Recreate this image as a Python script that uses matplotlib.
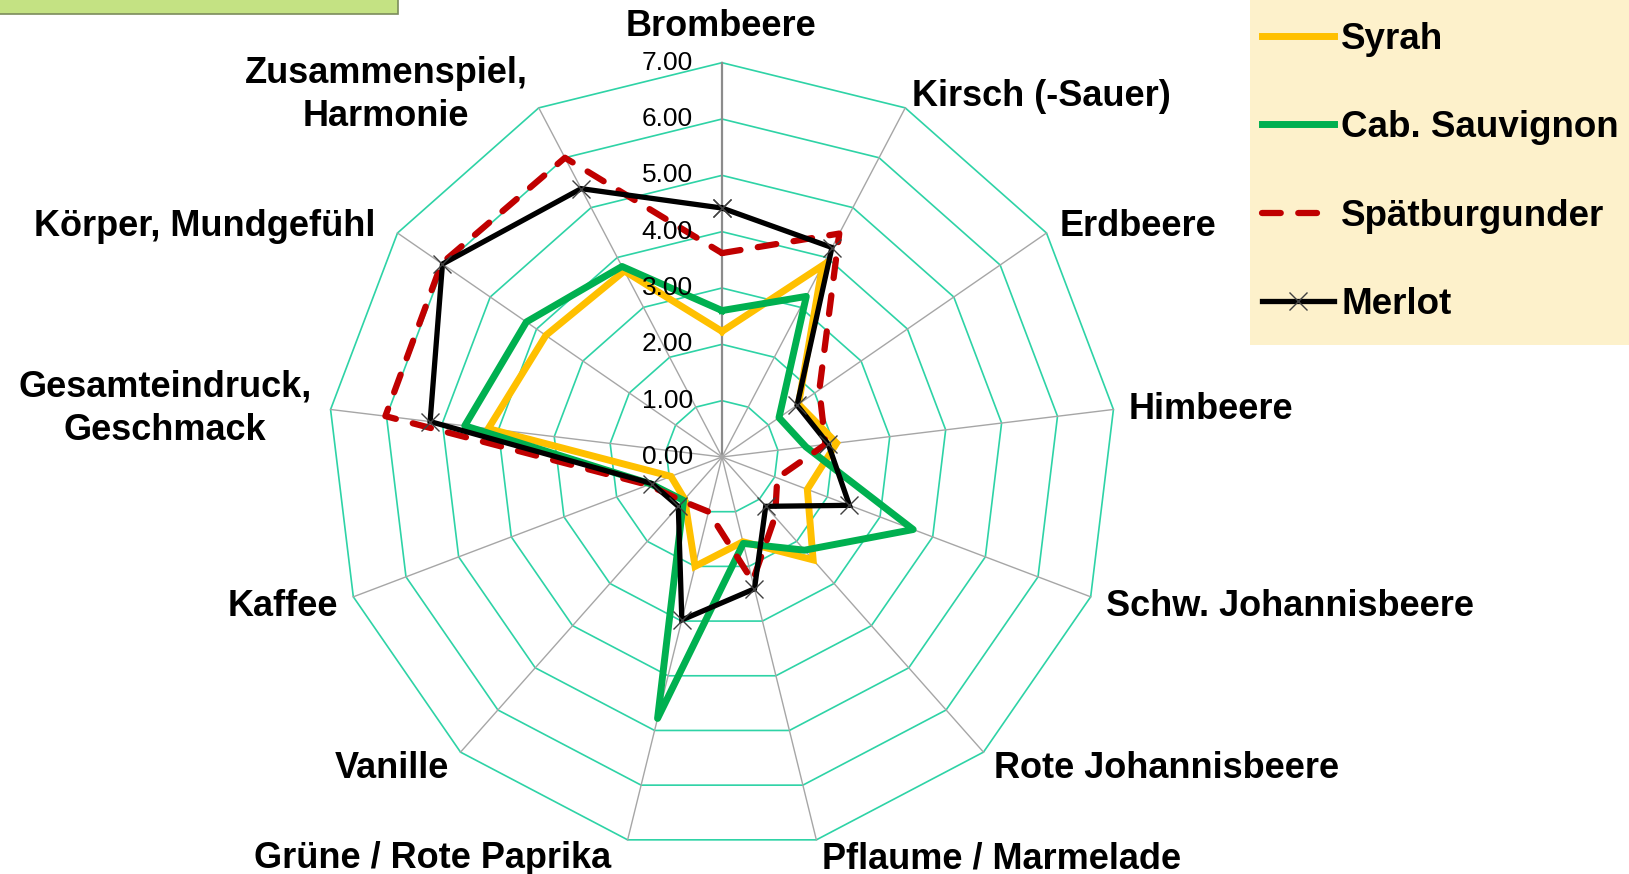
import numpy as np
import matplotlib
matplotlib.use("Agg")
import matplotlib.pyplot as plt
from matplotlib.patches import Rectangle
import matplotlib.transforms as mtransforms

# ---------------- data ----------------
categories = ["Brombeere", "Kirsch (-Sauer)", "Erdbeere", "Himbeere",
              "Schw. Johannisbeere", "Rote Johannisbeere", "Pflaume / Marmelade",
              "Grüne / Rote Paprika", "Vanille", "Kaffee",
              "Gesamteindruck,\nGeschmack", "Körper, Mundgefühl",
              "Zusammenspiel,\nHarmonie"]
syrah = [2.23, 3.84, 1.65, 2.05, 1.62, 2.44, 1.55, 2.00, 1.00, 0.97, 4.18, 3.80, 3.73]
cab_sauvignon = [2.60, 3.22, 1.23, 1.50, 3.63, 2.21, 1.58, 4.78, 1.03, 1.35, 4.60, 4.22, 3.82]
spaetburgunder = [3.62, 4.48, 2.10, 1.85, 1.05, 1.42, 2.27, 1.00, 1.05, 1.40, 6.02, 6.05, 6.00]
merlot = [4.42, 4.20, 1.62, 1.90, 2.42, 1.17, 2.41, 2.98, 1.17, 1.33, 5.22, 6.03, 5.38]
series_names = ["Syrah", "Cab. Sauvignon", "Spätburgunder", "Merlot"]
ring_values = [1, 2, 3, 4, 5, 6, 7]
tick_values = [0, 1, 2, 3, 4, 5, 6, 7]
tick_labels = ["0.00", "1.00", "2.00", "3.00", "4.00", "5.00", "6.00", "7.00"]

# ---------------- figure ----------------
W, H = 1629, 874
fig = plt.figure(figsize=(W / 100, H / 100), dpi=100)
fig.patch.set_facecolor("white")

def fx(px):
    return px / W

def fy(py):
    return 1 - py / H

cx, cy, R = 722, 457, 394.3
ax = fig.add_axes([fx(cx - R), fy(cy + R), 2 * R / W, 2 * R / H], projection="polar")
ax.set_theta_zero_location("N")
ax.set_theta_direction(-1)
ax.set_ylim(0, 7)
ax.set_xticks([])
ax.set_yticks([])
ax.grid(False)
ax.spines["polar"].set_visible(False)
ax.patch.set_alpha(0)

n = len(categories)
theta = np.arange(n) * 2 * np.pi / n
theta_closed = np.append(theta, theta[0])

# grid rings (polygons)
ring_color = "#2ED3A6"
for rv in ring_values:
    ax.plot(theta_closed, [rv] * (n + 1), color=ring_color, lw=1.2, clip_on=False, zorder=1)
# spokes
for i, t in enumerate(theta):
    ax.plot([t, t], [0, 7], color="#8C8C8C" if i == 0 else "#A6A6A6",
            lw=1.6 if i == 0 else 1.0, clip_on=False, zorder=1)

def closed(v):
    return list(v) + [v[0]]

l1, = ax.plot(theta_closed, closed(syrah), color="#FFC000", lw=5.0,
              solid_joinstyle="miter", clip_on=False, zorder=3, label=series_names[0])
l2, = ax.plot(theta_closed, closed(cab_sauvignon), color="#00B050", lw=5.0,
              solid_joinstyle="round", clip_on=False, zorder=3, label=series_names[1])
l3, = ax.plot(theta_closed, closed(spaetburgunder), color="#C00000", lw=4.5,
              dashes=(3.0, 2.8), dash_capstyle="round", clip_on=False, zorder=4,
              label=series_names[2])
l4, = ax.plot(theta_closed, closed(merlot), color="black", lw=3.8,
              marker="x", markersize=13, markeredgecolor="#404040", markeredgewidth=1.0,
              solid_joinstyle="miter", clip_on=False, zorder=5, label=series_names[3])

# radial tick labels
off = mtransforms.offset_copy(ax.transData, fig=fig, x=-29, y=0, units="dots")
for tv, tl in zip(tick_values, tick_labels):
    ax.text(0, tv, tl, transform=off, ha="right", va="center",
            fontsize=19, family="Liberation Sans", color="black", zorder=6)

# category labels
lab_font = dict(fontsize=26, family="Liberation Sans", fontweight="bold", color="black")
label_pos = [
    (721, 27, "center"),
    (912, 96, "left"),
    (1060, 227, "left"),
    (1129, 410, "left"),
    (1106, 606, "left"),
    (994, 768, "left"),
    (822, 859, "left"),
    (611, 859, "right"),
    (449, 768, "right"),
    (338, 606, "right"),
    (165, 409, "center"),
    (375, 227, "right"),
    (386, 95, "center"),
]
for (px, py, ha), lab in zip(label_pos, categories):
    fig.text(fx(px), fy(py), lab, ha=ha, va="center", multialignment="center",
             linespacing=1.3, **lab_font)

# top-left green box (cut off)
fig.patches.append(Rectangle((fx(-5), fy(14)), fx(403), 14 / H + 0.02,
                             transform=fig.transFigure, facecolor="#C4E283",
                             edgecolor="#7C8C5C", lw=1.2, zorder=0))

# legend background
fig.patches.append(Rectangle((fx(1250), fy(345)), fx(400), 345 / H + 0.02,
                             transform=fig.transFigure, facecolor="#FDF1CB",
                             edgecolor="none", zorder=0))
leg = fig.legend(handles=[l1, l2, l3, l4], loc="upper left",
                 bbox_to_anchor=(fx(1262), fy(22)), frameon=False,
                 prop=dict(family="Liberation Sans", weight="bold", size=26.5),
                 handlelength=1.95, handletextpad=0.2, labelspacing=1.45,
                 borderaxespad=0, borderpad=0)

fig.savefig("out.png", dpi=100)
